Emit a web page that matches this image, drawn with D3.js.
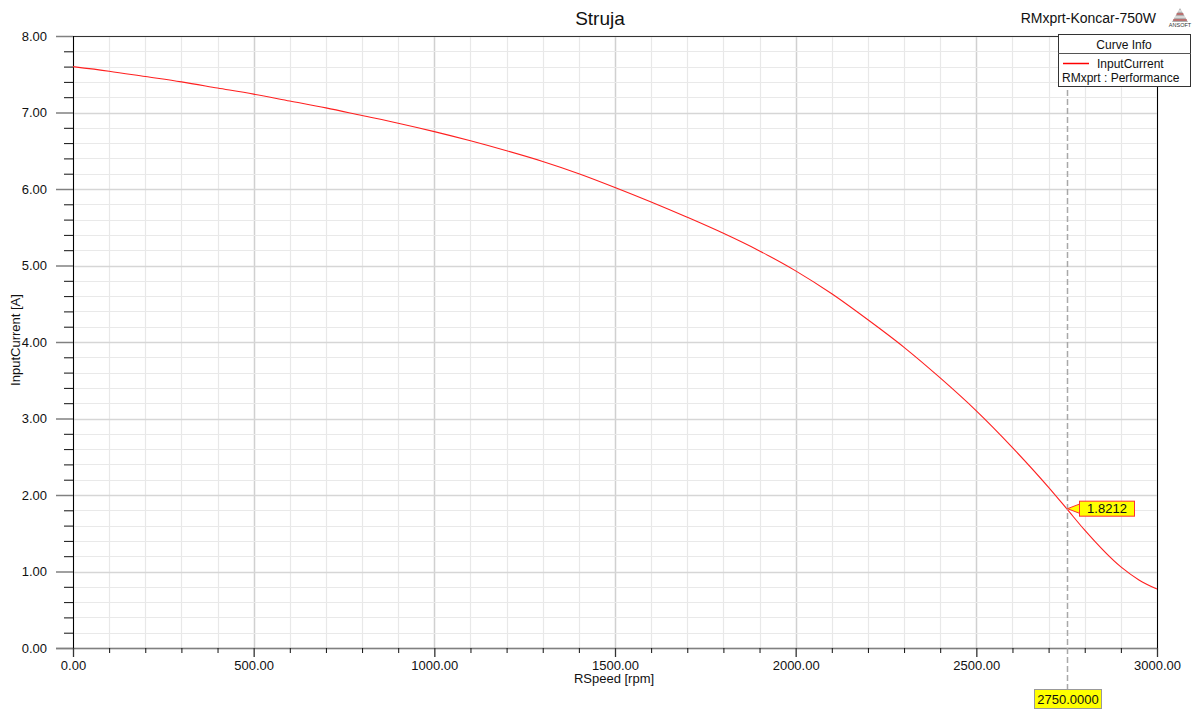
<!DOCTYPE html>
<html><head><meta charset="utf-8">
<script src="https://cdn.jsdelivr.net/npm/d3@7"></script>
<style>body{margin:0;background:#fff}svg{display:block;font-family:"Liberation Sans",Arial,sans-serif}</style>
</head><body><svg id="c" width="1199" height="709"></svg>
<script>
const rpm = [0,100,200,300,400,500,600,700,800,900,1000,1100,1200,1300,1400,1500,1600,1700,1800,1900,2000,2100,2200,2300,2400,2500,2600,2700,2750,2800,2900,2950,3000];
const inputCurrent = [7.60,7.54,7.47,7.40,7.32,7.24,7.15,7.06,6.96,6.86,6.75,6.63,6.50,6.36,6.20,6.02,5.83,5.63,5.42,5.19,4.93,4.63,4.29,3.93,3.53,3.10,2.62,2.10,1.8212,1.54,1.06,0.89,0.77];
const xTicks = [0,500,1000,1500,2000,2500,3000];
const yTicks = [0,1,2,3,4,5,6,7,8];
const markerX = 2750, markerY = 1.8212;
const title = "Struja", subtitle = "RMxprt-Koncar-750W";
const xLabel = "RSpeed [rpm]", yLabel = "InputCurrent [A]";
const legendTitle = "Curve Info", legendName = "InputCurrent", legendSrc = "RMxprt : Performance";

const svg = d3.select("#c");
const L = 73, R = 1157, T = 36, B = 648;
const x = d3.scaleLinear().domain([0,3000]).range([L,R]);
const y = d3.scaleLinear().domain([0,8]).range([B,T]);

// gridlines
const g = svg.append("g");
const minorX = d3.range(0,3001,100), minorY = d3.range(0,8.001,0.2);
g.selectAll(".vx").data(minorX).join("line")
  .attr("x1",d=>Math.round(x(d))+0.5).attr("x2",d=>Math.round(x(d))+0.5).attr("y1",T).attr("y2",B)
  .attr("stroke",d=>d%500===0?"#d0d0d0":"#e8e8e8").attr("stroke-width",d=>d%500===0?1.5:1.2);
g.selectAll(".hy").data(minorY).join("line")
  .attr("y1",d=>Math.round(y(d))+0.5).attr("y2",d=>Math.round(y(d))+0.5).attr("x1",L).attr("x2",R)
  .attr("stroke",d=>Math.abs(d-Math.round(d))<1e-6?"#d6d6d6":"#e9e9e9").attr("stroke-width",d=>Math.abs(d-Math.round(d))<1e-6?1.5:1.2);

// axes frame
svg.append("line").attr("x1",56).attr("x2",R).attr("y1",T+0.5).attr("y2",T+0.5).attr("stroke","#333");
svg.append("line").attr("x1",56).attr("x2",R).attr("y1",B+0.5).attr("y2",B+0.5).attr("stroke","#808080").attr("stroke-width",1.5);
svg.append("line").attr("x1",L+0.5).attr("x2",L+0.5).attr("y1",T).attr("y2",B+9).attr("stroke","#000");
svg.append("line").attr("x1",R+0.5).attr("x2",R+0.5).attr("y1",T).attr("y2",B+9).attr("stroke","#000");

// y axis
const yAxis = d3.axisLeft(y).tickValues(yTicks).tickFormat(d3.format(".2f")).tickSize(17).tickPadding(9);
const ya = svg.append("g").attr("transform",`translate(${L},0)`).call(yAxis);
ya.select(".domain").remove();
ya.selectAll(".tick line").attr("stroke","#808080").attr("stroke-width",1.5);
ya.selectAll("text").attr("font-size",13).attr("fill","#111").attr("font-family","Liberation Sans, Arial");
const yMinor = d3.axisLeft(y).tickValues(minorY.filter(d=>Math.abs(d-Math.round(d))>1e-6)).tickSize(9).tickFormat("");
const ym = svg.append("g").attr("transform",`translate(${L},0)`).call(yMinor);
ym.select(".domain").remove(); ym.selectAll(".tick line").attr("stroke","#111");

// x axis
const xAxis = d3.axisBottom(x).tickValues(xTicks).tickFormat(d3.format(".2f")).tickSize(9).tickPadding(4);
const xa = svg.append("g").attr("transform",`translate(0,${B})`).call(xAxis);
xa.select(".domain").remove();
xa.selectAll(".tick line").attr("stroke","#333").attr("stroke-width",1.3);
xa.selectAll("text").attr("font-size",13).attr("fill","#111").attr("font-family","Liberation Sans, Arial");
const xMinor = d3.axisBottom(x).tickValues(minorX.filter(d=>d%500!==0)).tickSize(5).tickFormat("");
const xm = svg.append("g").attr("transform",`translate(0,${B})`).call(xMinor);
xm.select(".domain").remove(); xm.selectAll(".tick line").attr("stroke","#111");

// curve
const line = d3.line().x((d,i)=>x(rpm[i])).y(d=>y(d)).curve(d3.curveMonotoneX);
svg.append("path").datum(inputCurrent).attr("d",line).attr("fill","none").attr("stroke","#ff2020").attr("stroke-width",1.1);

// marker
const mx = Math.round(x(markerX))+0.5, my = y(markerY);
svg.append("line").attr("x1",mx).attr("x2",mx).attr("y1",T).attr("y2",689)
  .attr("stroke","#a8a8a8").attr("stroke-width",1.5).attr("stroke-dasharray","6,3");
svg.append("path").attr("d",`M${mx},${my} L${mx+13},${my-5} L${mx+13},${my+5} Z`).attr("fill","#ffff00").attr("stroke","#ff3030").attr("stroke-width",1);
svg.append("rect").attr("x",mx+12).attr("y",my-7.5).attr("width",55).attr("height",15).attr("fill","#ffff00").attr("stroke","#ff3030").attr("stroke-width",1);
svg.append("text").attr("x",mx+39.5).attr("y",my+4.5).attr("text-anchor","middle").attr("font-size",13).attr("fill","#111").text(markerY.toFixed(4));
svg.append("rect").attr("x",mx-33).attr("y",689.5).attr("width",67).attr("height",19).attr("fill","#ffff00").attr("stroke","#999").attr("stroke-width",1);
svg.append("text").attr("x",mx+0.5).attr("y",704).attr("text-anchor","middle").attr("font-size",13).attr("fill","#111").text(markerX.toFixed(4));

// titles
svg.append("text").attr("x",600).attr("y",25).attr("text-anchor","middle").attr("font-size",19).attr("fill","#111").text(title);
svg.append("text").attr("x",1156).attr("y",23).attr("text-anchor","end").attr("font-size",14).attr("fill","#111").text(subtitle);
svg.append("text").attr("x",614).attr("y",683).attr("text-anchor","middle").attr("font-size",13).attr("fill","#111").text(xLabel);
svg.append("text").attr("transform","translate(20,340) rotate(-90)").attr("text-anchor","middle").attr("font-size",13).attr("fill","#111").text(yLabel);

// legend
const lg = svg.append("g");
lg.append("rect").attr("x",1058.5).attr("y",34.5).attr("width",132).attr("height",52).attr("fill","#fff").attr("stroke","#333");
lg.append("line").attr("x1",1058).attr("x2",1191).attr("y1",53.5).attr("y2",53.5).attr("stroke","#555");
lg.append("text").attr("x",1124).attr("y",49).attr("text-anchor","middle").attr("font-size",12).attr("fill","#111").text(legendTitle);
lg.append("line").attr("x1",1063).attr("x2",1089).attr("y1",63.5).attr("y2",63.5).attr("stroke","#ff0000").attr("stroke-width",1.5);
lg.append("text").attr("x",1097).attr("y",68).attr("font-size",12).attr("fill","#111").text(legendName);
lg.append("text").attr("x",1062).attr("y",82).attr("font-size",12).attr("fill","#111").text(legendSrc);

// ANSOFT logo
const logo = svg.append("g").attr("transform","translate(1180,8)");
logo.append("path").attr("d","M0,0 L-8,14 L8,14 Z").attr("fill","#b0b0b0");
[3,6,9,12].forEach(v=>logo.append("line").attr("x1",-v*0.57).attr("x2",v*0.57).attr("y1",v).attr("y2",v).attr("stroke",v%6===0?"#c03030":"#fff").attr("stroke-width",1));
logo.append("text").attr("x",0).attr("y",19).attr("text-anchor","middle").attr("font-size",5.5).attr("fill","#333").text("ANSOFT");
</script></body></html>
